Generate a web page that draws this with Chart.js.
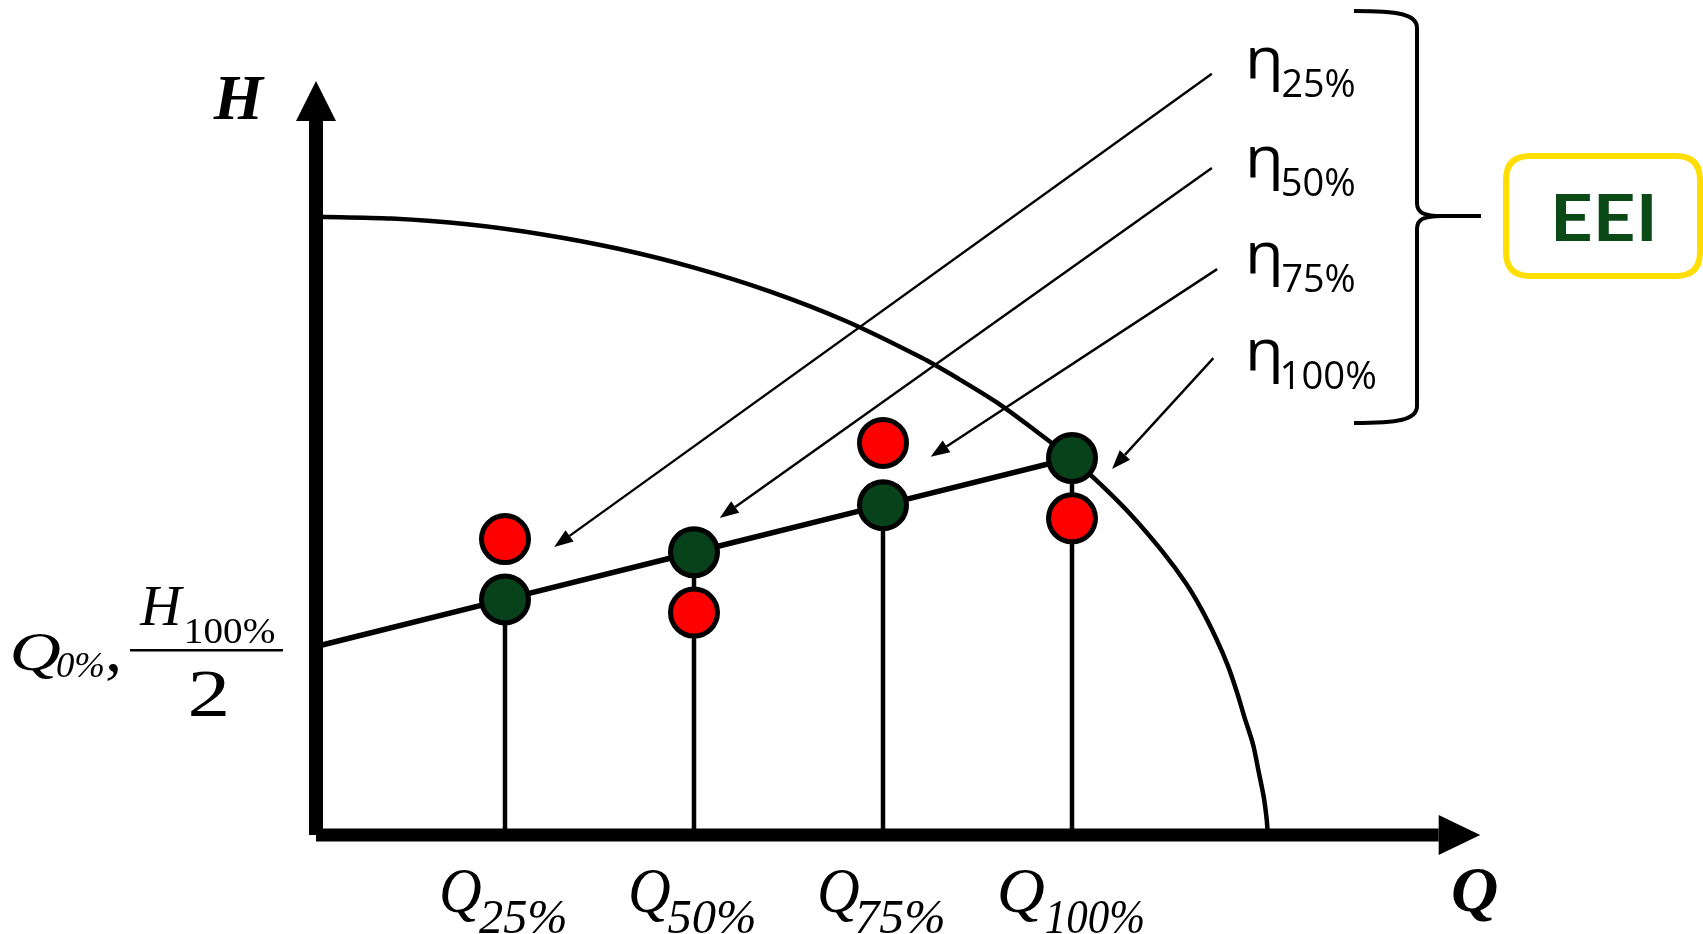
<!DOCTYPE html>
<html><head><meta charset="utf-8">
<script src="https://cdn.jsdelivr.net/npm/chart.js@4.4.1/dist/chart.umd.min.js"></script>
<style>html,body{margin:0;padding:0;background:#fff;overflow:hidden}#wrap{position:relative;width:1703px;height:934px}</style>
</head><body><div id="wrap"><canvas id="c"></canvas></div>
<script>
// ---- data (flow in % of Q100, head in % of H100) ----
const flowPct = [25, 50, 75, 100];
const flowTickLabels = ['25%', '50%', '75%', '100%'];
const etaLabels = ['25%', '50%', '75%', '100%'];
const refHead = [62.5, 75, 87.5, 100];      // green points (reference control curve)
const measHead = [78.5, 59, 104, 84];        // red points
const refLineQ = [0, 25, 50, 75, 100];
const refLineH = [50, 62.5, 75, 87.5, 100];
const pumpQ = [0, 10, 20, 30, 40, 50, 60, 70, 80, 85, 90, 95, 100, 104, 108, 112, 115, 117.1, 119.1, 120.6, 121.8, 122.85, 123.95, 124.67, 125.37, 125.76, 125.9];
const pumpH = [164, 163.5, 162, 159.3, 155.5, 150.5, 144.2, 136.4, 126.7, 121, 114.8, 107.5, 99.8, 92.6, 84.5, 75.1, 67, 60, 52, 45, 38, 31, 24, 17, 10, 4, 0];

const GREEN = '#07421A', RED = '#FF0000', YELLOW = '#FFDE00', EEI_GREEN = '#0B4A17';

function boxText(ctx, text, font, l, t, w, h, color) {
  ctx.save();
  ctx.font = font;
  const m = ctx.measureText(text);
  const iw = m.actualBoundingBoxLeft + m.actualBoundingBoxRight;
  const ih = m.actualBoundingBoxAscent + m.actualBoundingBoxDescent;
  ctx.translate(l, t);
  ctx.scale(w / iw, h / ih);
  ctx.fillStyle = color || '#000';
  ctx.textAlign = 'left'; ctx.textBaseline = 'alphabetic';
  ctx.fillText(text, m.actualBoundingBoxLeft, m.actualBoundingBoxAscent);
  ctx.restore();
}
function arrow(ctx, x1, y1, x2, y2) {
  const a = Math.atan2(y2 - y1, x2 - x1), L = 19, W = 7;
  const bx = x2 - L * Math.cos(a), by = y2 - L * Math.sin(a);
  ctx.beginPath(); ctx.moveTo(x1, y1); ctx.lineTo(bx, by); ctx.lineWidth = 2.4; ctx.strokeStyle = '#000'; ctx.stroke();
  ctx.beginPath(); ctx.moveTo(x2, y2);
  ctx.lineTo(bx + W * Math.sin(a), by - W * Math.cos(a));
  ctx.lineTo(bx - W * Math.sin(a), by + W * Math.cos(a));
  ctx.closePath(); ctx.fillStyle = '#000'; ctx.fill();
}
function rrect(ctx, x, y, w, h, r) {
  ctx.beginPath();
  ctx.moveTo(x + r, y); ctx.lineTo(x + w - r, y); ctx.quadraticCurveTo(x + w, y, x + w, y + r);
  ctx.lineTo(x + w, y + h - r); ctx.quadraticCurveTo(x + w, y + h, x + w - r, y + h);
  ctx.lineTo(x + r, y + h); ctx.quadraticCurveTo(x, y + h, x, y + h - r);
  ctx.lineTo(x, y + r); ctx.quadraticCurveTo(x, y, x + r, y); ctx.closePath();
}

// annotation arrows (data units): from eta label to target
const etaArrows = [
  [[118.5, 201.9], [31.5, 76.4]],
  [[118.5, 176.9], [53.4, 84.1]],
  [[119.2, 150.1], [81.3, 100.3]],
  [[118.7, 126.5], [105.3, 97.1]]
];

const decor = {
  id: 'decor',
  afterDatasetsDraw(chart) {
    const ctx = chart.ctx, xs = chart.scales.x, ys = chart.scales.y;
    const X = v => xs.getPixelForValue(v), Y = v => ys.getPixelForValue(v);
    const x0 = X(0), y0 = Y(0);
    ctx.save();
    ctx.fillStyle = '#000';
    // y axis
    ctx.fillRect(x0 - 7, Y(189.4), 14, y0 - Y(189.4));
    ctx.beginPath(); ctx.moveTo(x0, Y(200)); ctx.lineTo(x0 + 20, Y(189.4)); ctx.lineTo(x0 - 20, Y(189.4)); ctx.closePath(); ctx.fill();
    // x axis
    ctx.fillRect(x0, y0 - 6.5, X(148.5) - x0, 13);
    ctx.beginPath(); ctx.moveTo(X(154), y0); ctx.lineTo(X(148.5), y0 - 20); ctx.lineTo(X(148.5), y0 + 20); ctx.closePath(); ctx.fill();
    // arrows
    etaArrows.forEach(([s, e]) => arrow(ctx, X(s[0]), Y(s[1]), X(e[0]), Y(e[1])));
    // axis titles
    boxText(ctx, 'H', "italic bold 100px 'Liberation Serif'", 213, 78, 52, 42);
    boxText(ctx, 'Q', "italic bold 100px 'Liberation Serif'", 1453, 870, 44, 52);
    // flow tick labels
    flowPct.forEach((q, i) => {
      const sx = X(q);
      const wide = flowTickLabels[i].length > 3;
      boxText(ctx, 'Q', "italic 100px 'Liberation Serif'", sx - (wide ? 72 : 63), 870, wide ? 44 : 39, 53);
      boxText(ctx, flowTickLabels[i], "italic 100px 'Liberation Serif'", sx - 26, 901, wide ? 97 : 86, 33);
    });
    // left label Q0%, H100%/2
    boxText(ctx, 'Q', "italic 100px 'Liberation Serif'", 13, 633, 47, 46);
    boxText(ctx, '0%', "italic 100px 'Liberation Serif'", 57, 654, 46, 24);
    boxText(ctx, ',', "100px 'Liberation Serif'", 107, 664, 11, 17);
    boxText(ctx, 'H', "italic 100px 'Liberation Serif'", 139, 588, 45, 38);
    boxText(ctx, '100%', "100px 'Liberation Serif'", 187, 619, 87, 25);
    ctx.fillRect(130, 649, 153, 2.5);
    boxText(ctx, '2', "100px 'Liberation Serif'", 191, 672, 35, 45);
    // eta labels
    const etaTop = [47, 146, 242, 339];
    etaLabels.forEach((s, i) => {
      boxText(ctx, 'η', "100px 'Open Sans'", 1250, etaTop[i], 29, 45);
      boxText(ctx, s, "100px 'Open Sans'", 1283, etaTop[i] + 21, s.length > 3 ? 92 : 71, 29);
    });
    // brace
    ctx.beginPath();
    ctx.moveTo(1354, 11);
    ctx.bezierCurveTo(1398, 11, 1417, 14, 1417, 28);
    ctx.lineTo(1417, 203);
    ctx.bezierCurveTo(1417, 213, 1424, 216, 1442, 216);
    ctx.lineTo(1481, 216);
    ctx.moveTo(1442, 216);
    ctx.bezierCurveTo(1424, 216, 1417, 219, 1417, 229);
    ctx.lineTo(1417, 406);
    ctx.bezierCurveTo(1417, 420, 1398, 423, 1354, 423);
    ctx.lineWidth = 4; ctx.strokeStyle = '#000'; ctx.stroke();
    // EEI box
    rrect(ctx, 1506, 156, 194, 120, 24);
    ctx.lineWidth = 6; ctx.strokeStyle = YELLOW; ctx.stroke();
    boxText(ctx, 'EEI', "bold 100px Lato", 1556, 194, 96, 47, EEI_GREEN);
    ctx.restore();
  }
};

const stemData = [];
flowPct.forEach((q, i) => { stemData.push({x: q, y: 0}, {x: q, y: refHead[i]}, {x: q, y: null}); });

new Chart(document.getElementById('c'), {
  type: 'scatter',
  data: {
    datasets: [
      { label: 'measured', data: flowPct.map((q, i) => ({x: q, y: measHead[i]})), pointRadius: 23.5, pointBorderWidth: 5,
        backgroundColor: RED, borderColor: '#000', order: 0 },
      { label: 'reference', data: flowPct.map((q, i) => ({x: q, y: refHead[i]})), pointRadius: 23.5, pointBorderWidth: 5,
        backgroundColor: GREEN, borderColor: '#000', order: 1 },
      { label: 'control', data: refLineQ.map((q, i) => ({x: q, y: refLineH[i]})), showLine: true, pointRadius: 0,
        borderColor: '#000', borderWidth: 5.5, order: 2 },
      { label: 'stems', data: stemData, showLine: true, spanGaps: false, pointRadius: 0,
        borderColor: '#000', borderWidth: 4.5, order: 3 },
      { label: 'pump', data: pumpQ.map((q, i) => ({x: q, y: pumpH[i]})), showLine: true, pointRadius: 0,
        borderColor: '#000', borderWidth: 4.5, tension: 0.3, order: 4 }
    ]
  },
  options: {
    responsive: true, maintainAspectRatio: false, animation: false, devicePixelRatio: 1,
    layout: { autoPadding: false, padding: { left: 316, right: 177.4, top: 5.6, bottom: 99 } },
    scales: {
      x: { type: 'linear', min: 0, max: 160, display: false },
      y: { type: 'linear', min: 0, max: 220, display: false }
    },
    elements: { line: { borderCapStyle: 'butt' } },
    clip: false,
    plugins: { legend: { display: false }, tooltip: { enabled: false } },
    events: []
  },
  plugins: [decor]
});
</script></body></html>
